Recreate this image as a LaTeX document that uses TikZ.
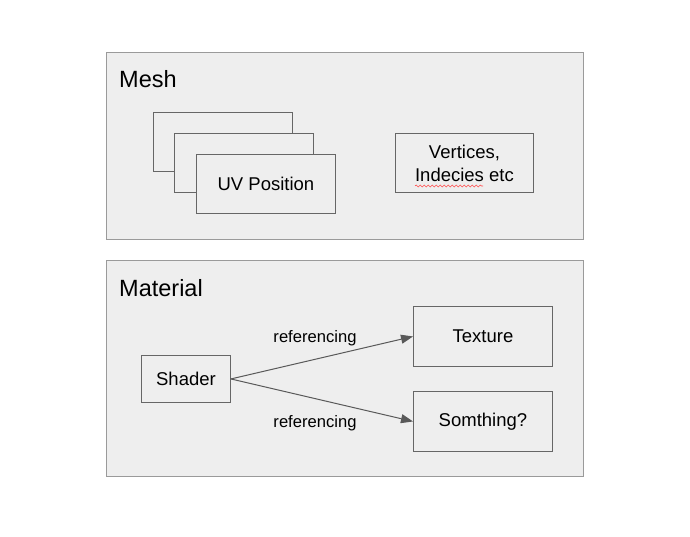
\documentclass[tikz,border=0pt]{standalone}
\usepackage{xcolor}
\usepackage{tikz}
\usepackage{fontspec}
\setmainfont{Liberation Sans}
\usetikzlibrary{positioning}
\usetikzlibrary{arrows.meta,decorations.pathmorphing}
\definecolor{panel}{HTML}{EEEEEE}
\definecolor{rim}{HTML}{9A9A9A}
\definecolor{edgegray}{HTML}{666666}
\definecolor{linkgray}{HTML}{595959}

\begin{document}
\begin{tikzpicture}
                [x=1pt, y=-1pt,
                 group/.style = {draw=rim, fill=panel, line width=1pt, minimum width=477pt, anchor=north west, inner sep=0pt},
                 title/.style = {anchor=west, inner sep=0pt, font=\fontsize{23.5}{28}\selectfont},
                 box/.style = {draw=edgegray, fill=panel, line width=0.9pt, minimum width=139pt, minimum height=59pt, inner sep=0pt, anchor=north west, font=\fontsize{18.5}{23}\selectfont},
                 link/.style = {draw=linkgray, line width=1pt, -{Triangle[length=12pt,width=9pt]}},
                 tag/.style = {inner sep=0pt, font=\fontsize{16.6}{20}\selectfont}]
                \useasboundingbox (0,0) rectangle (690,537);
                % Outer panels
                \node[group, minimum height=187pt] (mesh) at (106,52) {};
                \node[group, minimum height=216pt] (material) at (106,260) {};
                \node[title] (meshtitle) at (119,79) {Mesh};
                \node[title] (materialtitle) at (119,288) {Material};
                % Mesh contents
                \node[box] (uvc) at (153,112) {};
                \node[box] (uvb) at (174,133) {};
                \node[box] (uva) at (196,154) {UV Position};
                \node[box, minimum width=138pt, align=center] (vertices) at (395,133) {Vertices,\\Indecies etc};
                \draw[red!70, line width=0.6pt, decorate, decoration={snake, amplitude=1pt, segment length=4pt}] (415,186) -- (483,186);
                % Material contents
                \node[box, minimum width=89pt, minimum height=47pt] (shader) at (141,355) {Shader};
                \node[box, minimum height=60pt] (texture) at (413,306) {Texture};
                \node[box, minimum height=60pt] (something) at (413,391) {Somthing?};
                % Links
                \draw[link] (shader.east) -- (texture.west);
                \draw[link] (shader.east) -- (something.west);
                \node[tag] (upper) at (315,338) {referencing};
                \node[tag] (lower) at (315,423) {referencing};
\end{tikzpicture}
\end{document}
